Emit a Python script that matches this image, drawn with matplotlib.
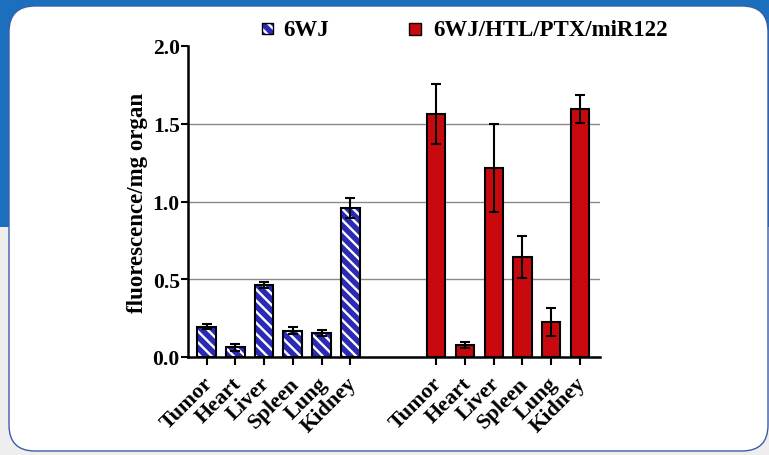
import matplotlib
matplotlib.use("Agg")
import matplotlib.pyplot as plt
from matplotlib.patches import FancyBboxPatch, Rectangle
from matplotlib.transforms import ScaledTranslation
import numpy as np

organs = ["Tumor", "Heart", "Liver", "Spleen", "Lung", "Kidney"]
wj_vals = [0.195, 0.062, 0.463, 0.170, 0.154, 0.958]
wj_err = [0.015, 0.022, 0.017, 0.025, 0.022, 0.067]
combo_vals = [1.565, 0.077, 1.216, 0.643, 0.223, 1.597]
combo_err = [0.193, 0.018, 0.285, 0.133, 0.090, 0.090]
series_names = ["6WJ", "6WJ/HTL/PTX/miR122"]
yticks = [0.0, 0.5, 1.0, 1.5, 2.0]

BLUE = "#2a2ab4"
RED = "#c80a0e"
FONT = "Liberation Serif"

plt.rcParams["hatch.linewidth"] = 1.7
plt.rcParams["font.family"] = FONT

W, H = 769, 456
fig = plt.figure(figsize=(W / 100, H / 100), dpi=100)
fig.patch.set_facecolor("#eeeeee")

# background decorations
bg = fig.add_axes([0, 0, 1, 1], zorder=-10)
bg.set_xlim(0, W)
bg.set_ylim(H, 0)
bg.axis("off")
bg.add_patch(Rectangle((0, 0), W, 228, facecolor="#1b6fbd", edgecolor="none"))
bg.add_patch(FancyBboxPatch((9, 7), 768 - 9, 452 - 7, boxstyle="round,pad=0,rounding_size=26",
                            facecolor="white", edgecolor="#3b5ea8", linewidth=1.0))

ax = fig.add_axes([188 / W, (H - 358) / H, (600 - 188) / W, (358 - 47) / H])
ax.set_facecolor("none")

x1 = np.arange(len(organs))
x2 = np.arange(len(organs)) + 8
bw = 0.65

ax.bar(x1, wj_vals, width=bw, color=BLUE, edgecolor="white", hatch="\\\\\\", linewidth=0, zorder=3)
ax.bar(x1, wj_vals, width=bw, color="none", edgecolor="black", linewidth=1.5, zorder=4)
ax.bar(x2, combo_vals, width=bw * 0.97, color=RED, edgecolor="black", linewidth=1.5, zorder=3)

ax.errorbar(x1, wj_vals, yerr=wj_err, fmt="none", ecolor="black", elinewidth=1.5,
            capsize=3.5, capthick=1.5, zorder=5)
ax.errorbar(x2, combo_vals, yerr=combo_err, fmt="none", ecolor="black", elinewidth=1.5,
            capsize=3.5, capthick=1.5, zorder=5)

for g in [0.5, 1.0, 1.5]:
    ax.axhline(g, color="#8a8a8a", linewidth=1.0, zorder=1)

ax.set_xlim(-0.65, 13.7)
ax.set_ylim(0, 2.0)
ax.set_yticks(yticks)
ax.set_yticklabels([f"{v:.1f}" for v in yticks], fontsize=15.5, fontweight="bold", family=FONT)
ax.set_xticks(list(x1) + list(x2))
ax.set_xticklabels(organs + organs, rotation=45, ha="right", va="top",
                   rotation_mode="anchor", fontsize=16, fontweight="bold", family=FONT)
ax.tick_params(axis="x", direction="out", length=6, width=1.5, pad=4)
ax.tick_params(axis="y", direction="out", length=5, width=1.5, pad=1)
offset = ScaledTranslation(-4 / 100, -2 / 100, fig.dpi_scale_trans)
for lbl in ax.get_xticklabels():
    lbl.set_transform(lbl.get_transform() + offset)

for s in ["top", "right"]:
    ax.spines[s].set_visible(False)
for s in ["left", "bottom"]:
    ax.spines[s].set_linewidth(1.8)

ax.set_ylabel("fluorescence/mg organ", fontsize=16.5, fontweight="bold", family=FONT, labelpad=3)

# legend
lg = fig.add_axes([0, 0, 1, 1], zorder=5)
lg.set_xlim(0, W)
lg.set_ylim(H, 0)
lg.axis("off")
lg.add_patch(Rectangle((262, 24), 11, 11, facecolor=BLUE, edgecolor="white", hatch="\\\\\\", linewidth=0))
lg.add_patch(Rectangle((262, 24), 11, 11, facecolor="none", edgecolor="black", linewidth=1.0))
lg.text(283, 30, series_names[0], fontsize=16.5, fontweight="bold", va="center", ha="left", family=FONT)
lg.add_patch(Rectangle((409, 24), 12, 12, facecolor=RED, edgecolor="black", linewidth=1.0))
lg.text(433, 30, series_names[1], fontsize=16.5, fontweight="bold", va="center", ha="left", family=FONT)

fig.savefig("out.png", dpi=100, facecolor=fig.get_facecolor())
